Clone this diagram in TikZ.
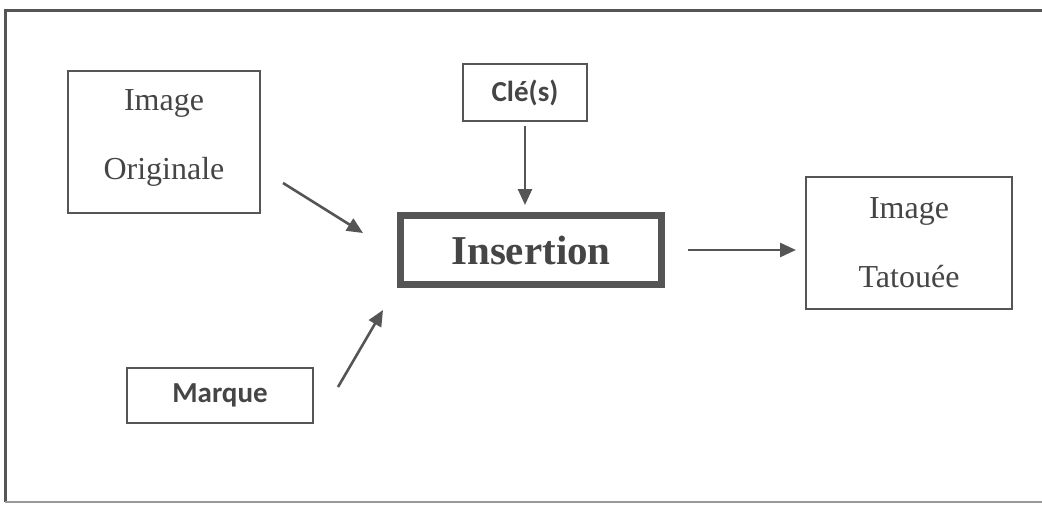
\documentclass[tikz,border=0pt]{standalone}
\usepackage{fontspec}
\setmainfont{Liberation Serif}
\newfontfamily\labelfont{Carlito}
\usetikzlibrary{arrows.meta}
\definecolor{inkgray}{HTML}{454545}
\definecolor{linegray}{HTML}{555555}

\tikzset{%
  every block/.style={
    draw=linegray,
    line width=1pt,
    text=inkgray,
    align=center,
    inner sep=0pt
  },
  block image/.style={
    font=\fontsize{16}{34.5}\selectfont
  },
  block label/.style={
    font=\labelfont\bfseries\fontsize{14.5}{17}\selectfont
  },
  block main/.style={
    line width=3.5pt,
    font=\bfseries\fontsize{20.5}{24}\selectfont
  },
  link/.style={
    draw=linegray,
    line width=1.3pt,
    -{Triangle[length=8pt,width=7pt]}
  },
}

\begin{document}
\begin{tikzpicture}[x=0.5pt, y=-0.5pt]
    \useasboundingbox (0,0) rectangle (1042,508);
    \draw [linegray, line width=1.5pt] (1042,11) -- (5,11) -- (5,502);
    \draw [linegray!60, line width=0.8pt] (5,502) -- (1042,502);

    \node [every block, block image, minimum width=96pt, minimum height=71pt, text depth=7pt] (orig) at (164,142) {Image\\Originale};
    \node [every block, block label, minimum width=62pt, minimum height=28.5pt] (key) at (525,92.5) {Clé(s)};
    \node [every block, block main, minimum width=130.5pt, minimum height=34.5pt] (ins) at (531,250) {Insertion};
    \node [every block, block label, minimum width=93pt, minimum height=27.5pt] (mark) at (220,395.5) {Marque};
    \node [every block, block image, minimum width=103pt, minimum height=66pt] (tat) at (909,243) {Image\\Tatouée};

    \draw [link, shorten <=2pt, shorten >=3.5pt] (key.south) -- (key.south |- ins.north);
    \draw [link, shorten <=11.5pt, shorten >=4.5pt] (ins.east) -- (ins.east -| tat.west);
    \draw [link] ([shift={(22,41)}]orig.east) -- ([shift={(-34,-17)}]ins.west);
    \draw [link] ([shift={(24,20)}]mark.north east) -- ([shift={(-14,22)}]ins.south west);
\end{tikzpicture}
\end{document}
